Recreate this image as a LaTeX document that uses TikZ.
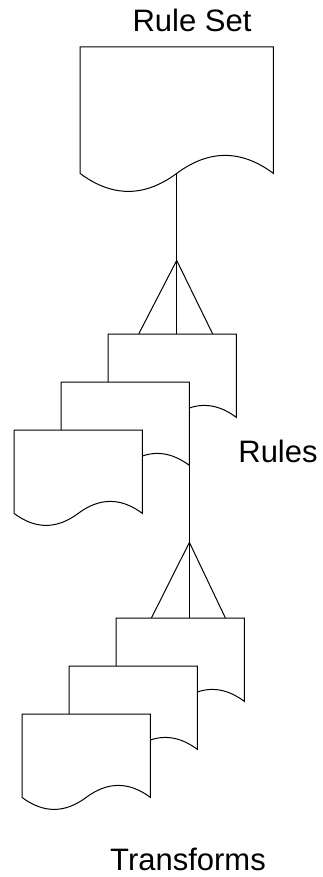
\documentclass[tikz,border=0pt]{standalone}
\usepackage{fontspec}
\setmainfont{Liberation Sans}
\usetikzlibrary{calc}

% outline of a document symbol laid over a named node
\newcommand{\docshape}[2]{%
  \draw[docline] (#1.north west) -- (#1.south west)
    .. controls ($(#1.south west)!0.1667!(#1.south east)+(0pt,-#2pt)$)
            and ($(#1.south west)!0.3333!(#1.south east)+(0pt,-#2pt)$) .. (#1.south)
    .. controls ($(#1.south west)!0.6667!(#1.south east)+(0pt,#2pt)$)
            and ($(#1.south west)!0.8333!(#1.south east)+(0pt,#2pt)$) .. (#1.south east)
    -- (#1.north east) -- cycle;}

\begin{document}
\begin{tikzpicture}[
      x=1pt, y=-1pt,
      doc/.style={rectangle, inner sep=0pt, anchor=north west,
        minimum width=128pt, minimum height=83pt},
      docline/.style={draw=black, fill=white, line width=1pt},
      link/.style={draw=black, line width=1pt},
      lbl/.style={font=\fontsize{31}{36}\selectfont, anchor=base, inner sep=0pt}
    ]
    \useasboundingbox (0,0) rectangle (322,877);

    % rule set
    \node[doc, minimum width=193pt, minimum height=126pt] (rs) at (80,47) {};
    \node[lbl] (rslbl) at (192,32) {Rule Set};
    \coordinate (a1) at ([yshift=-87pt]rs.south);

    % rules
    \node[doc] (r1) at (108,334) {};
    \node[doc] (r2) at ([shift={(-47,48)}]r1.north west) {};
    \node[doc] (r3) at ([shift={(-47,48)}]r2.north west) {};
    \node[lbl] (rlbl) at (278,462) {Rules};
    \coordinate (a2) at ([yshift=-77pt]r2.south east);

    % transforms
    \node[doc] (t1) at (116,618) {};
    \node[doc] (t2) at ([shift={(-47,48)}]t1.north west) {};
    \node[doc] (t3) at ([shift={(-47,48)}]t2.north west) {};
    \node[lbl] (tlbl) at (188,870) {Transforms};

    \draw[link] (rs.south) -- (a1);
    \foreach \dx in {-38,0,36}
      \draw[link] (a1) -- ($(a1 |- r1.north)+(\dx,0)$);
    \draw[link] (r2.south east) -- (a2);
    \foreach \dx in {-38,0,36}
      \draw[link] (a2) -- ($(a2 |- t1.north)+(\dx,0)$);

    \docshape{rs}{24}
    \docshape{r1}{16}
    \docshape{r2}{16}
    \docshape{r3}{16}
    \docshape{t1}{16}
    \docshape{t2}{16}
    \docshape{t3}{16}

  \end{tikzpicture}
\end{document}
